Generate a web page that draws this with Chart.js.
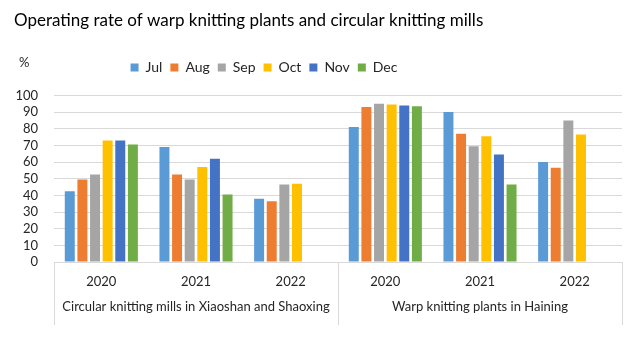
<!DOCTYPE html>
<html>
<head>
<meta charset="utf-8">
<script src="https://cdn.jsdelivr.net/npm/chart.js@4.4.0/dist/chart.umd.min.js"></script>
<style>
  html, body { margin: 0; padding: 0; background: #fff; }
  #wrap { width: 643px; height: 341px; position: relative; }
</style>
</head>
<body>
<div id="wrap"><canvas id="chart"></canvas></div>
<script>
// Operating rate of warp knitting plants and circular knitting mills
const years = ['2020', '2021', '2022', '2020', '2021', '2022'];
const groupNames = ['Circular knitting mills in Xiaoshan and Shaoxing', 'Warp knitting plants in Haining'];
const months = ['Jul', 'Aug', 'Sep', 'Oct', 'Nov', 'Dec'];
const julData = [42.5, 69, 38, 81, 90, 60];
const augData = [49.5, 52.5, 36.5, 93, 77, 56.5];
const sepData = [52.5, 49.5, 46.5, 95, 69.5, 85];
const octData = [73, 57, 47, 94.5, 75.5, 76.5];
const novData = [73, 62, null, 94, 64.5, null];
const decData = [70.5, 40.5, null, 93.5, 46.5, null];
const yTicks = [0, 10, 20, 30, 40, 50, 60, 70, 80, 90, 100];

const colors = ['#5B9BD5', '#ED7D31', '#A5A5A5', '#FFC000', '#4472C4', '#70AD47'];
const series = [julData, augData, sepData, octData, novData, decData];
const FONT = "Lato, 'Liberation Sans', sans-serif";
const gridColor = '#d9d9d9';

// group labels under the years + the separator lines
const groupLabels = {
    id: 'groupLabels',
    afterLayout(chart) {
        // put the legend where the original has it
        chart.legend.left -= 54;
        chart.legend.right -= 54;
        chart.legend.top -= 11;
        chart.legend.bottom -= 11;
    },
    afterDraw(chart) {
        const { ctx, chartArea, scales: { x } } = chart;
        ctx.save();
        ctx.strokeStyle = gridColor;
        ctx.lineWidth = 1;
        [x.left, (x.getPixelForValue(2) + x.getPixelForValue(3)) / 2, x.right].forEach(px => {
            const xx = Math.round(px) + 0.5;
            ctx.beginPath();
            ctx.moveTo(xx, chartArea.bottom);
            ctx.lineTo(xx, 325);
            ctx.stroke();
        });
        ctx.fillStyle = '#262626';
        ctx.font = '13px ' + FONT;
        ctx.textAlign = 'center';
        ctx.textBaseline = 'middle';
        ctx.fillText(groupNames[0], x.getPixelForValue(1), 307);
        ctx.fillText(groupNames[1], x.getPixelForValue(4), 307);
        ctx.textAlign = 'left';
        ctx.fillText('%', 19, 63);
        ctx.restore();
    }
};

new Chart(document.getElementById('chart'), {
    type: 'bar',
    data: {
        labels: years,
        datasets: months.map((m, i) => ({
            label: m,
            data: series[i],
            backgroundColor: colors[i],
            borderWidth: 0,
            categoryPercentage: 0.8,
            barPercentage: 0.79
        }))
    },
    options: {
        responsive: true,
        maintainAspectRatio: false,
        animation: false,
        layout: { padding: { left: 14, right: 21, top: 0, bottom: 0 } },
        scales: {
            x: {
                grid: { display: false, drawTicks: false },
                border: { color: gridColor },
                ticks: { color: '#262626', font: { family: FONT, size: 13 }, padding: 12, maxRotation: 0 },
                afterFit: (s) => { s.height = 79; }
            },
            y: {
                min: 0, max: 100,
                afterBuildTicks: (s) => { s.ticks = yTicks.map(v => ({ value: v })); },
                grid: { color: gridColor, drawTicks: false },
                border: { display: false },
                ticks: { color: '#262626', font: { family: FONT, size: 13 }, padding: 16, autoSkip: false },
                afterFit: (s) => { s.width = 40; }
            }
        },
        plugins: {
            title: {
                display: true,
                text: 'Operating rate of warp knitting plants and circular knitting mills',
                align: 'start',
                color: '#000',
                font: { family: FONT, size: 17, weight: 'normal' },
                padding: { top: 10, bottom: 33 }
            },
            legend: {
                position: 'top',
                labels: {
                    color: '#262626',
                    font: { family: FONT, size: 14 },
                    boxWidth: 8, boxHeight: 8,
                    padding: 8
                }
            },
            tooltip: { enabled: false }
        }
    },
    plugins: [groupLabels]
});
</script>
</body>
</html>
